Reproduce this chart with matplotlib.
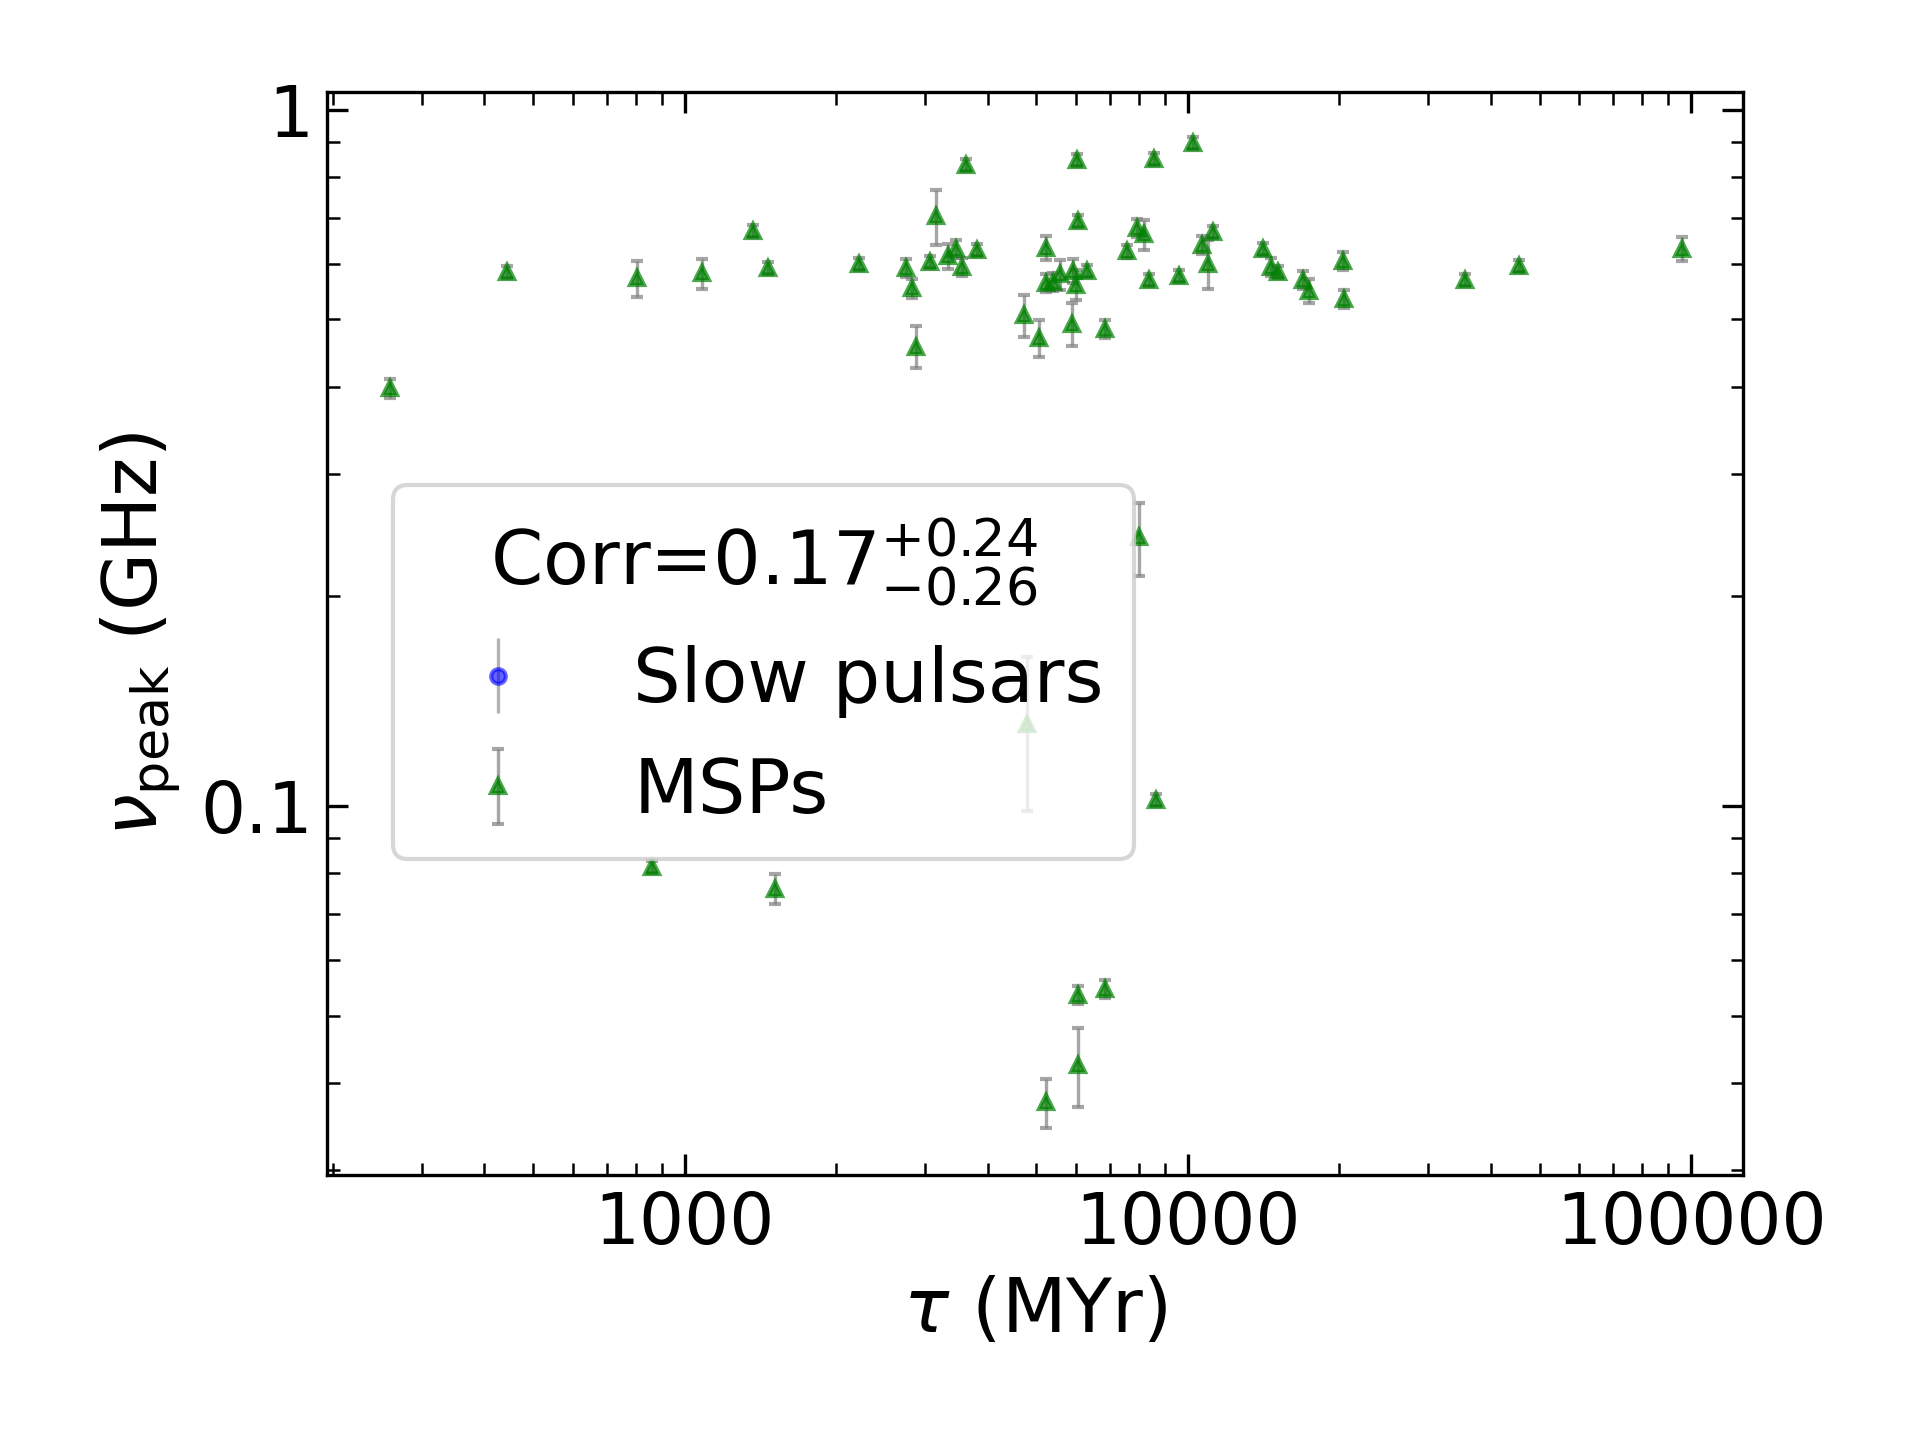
import numpy as np
import matplotlib
matplotlib.use("Agg")
import matplotlib.pyplot as plt

tau = [260, 443, 804, 860, 1081, 1367, 1462, 1512, 2223, 2750, 2827, 2876, 3075, 3162,
       3343, 3459, 3556, 3615, 3802, 4731, 4786, 5058, 5224, 5224, 5224, 5405, 5559, 5875,
       5916, 5984, 6012, 6053, 6053, 6053, 6295, 6843, 6843, 7568, 7907, 7998, 8185, 8356,
       8551, 8650, 9616, 10230, 10690, 10940, 11240, 14130, 14620, 15130, 16910, 17390,
       20320, 20450, 35560, 45480, 95700]
nu = [0.398, 0.585, 0.573, 0.0817, 0.582, 0.670, 0.592, 0.076, 0.601, 0.592, 0.554, 0.457,
      0.604, 0.703, 0.616, 0.631, 0.594, 0.834, 0.629, 0.507, 0.131, 0.470, 0.634, 0.564,
      0.0375, 0.566, 0.580, 0.493, 0.587, 0.561, 0.848, 0.692, 0.0425, 0.0535, 0.587,
      0.485, 0.0546, 0.626, 0.676, 0.243, 0.662, 0.570, 0.851, 0.102, 0.577, 0.897, 0.639,
      0.601, 0.668, 0.631, 0.594, 0.585, 0.570, 0.550, 0.606, 0.535, 0.570, 0.596, 0.631]
relerr = [0.03, 0.02, 0.06, 0.02, 0.05, 0.02, 0.02, 0.05, 0.02, 0.03, 0.03, 0.07, 0.02, 0.09,
          0.04, 0.03, 0.03, 0.02, 0.02, 0.07, 0.25, 0.06, 0.04, 0.03, 0.08, 0.03, 0.05, 0.07,
          0.04, 0.05, 0.02, 0.02, 0.13, 0.03, 0.02, 0.03, 0.03, 0.02, 0.03, 0.12, 0.05, 0.02,
          0.02, 0.02, 0.02, 0.02, 0.03, 0.08, 0.02, 0.02, 0.03, 0.02, 0.03, 0.04, 0.03, 0.03,
          0.02, 0.02, 0.04]
yerr = np.array(nu) * np.array(relerr)

fig = plt.figure(figsize=(6.4, 4.8), dpi=300)
ax = fig.add_axes([0.1705, 0.184, 0.7375, 0.752])

ax.errorbar([np.nan], [np.nan], yerr=[np.nan], fmt='o', color='blue', alpha=0.6,
            ecolor='gray', markersize=3.5, elinewidth=0.8, label='Slow pulsars')
ax.errorbar(tau, nu, yerr=yerr, fmt='^', color='green', alpha=0.7, ecolor='gray',
            markersize=3.2, elinewidth=0.8, capsize=1.5, label='MSPs')

ax.set_xscale('log')
ax.set_yscale('log')
ax.set_xlim(195, 127000)
ax.set_ylim(0.0295, 1.06)
ax.set_xticks([1000, 10000, 100000])
ax.set_xticklabels(['1000', '10000', '100000'])
ax.set_yticks([0.1, 1])
ax.set_yticklabels(['0.1', '1'])
ax.tick_params(which='both', direction='in', top=True, right=True, labelsize=17)
ax.tick_params(which='major', length=5)
ax.tick_params(which='minor', length=3)
ax.set_xlabel(r'$\tau$ (MYr)', fontsize=18)
ax.set_ylabel(r'$\nu_{\rm peak}$ (GHz)', fontsize=18)

leg = ax.legend(title=r'Corr=0.17$^{+0.24}_{-0.26}$', fontsize=18, title_fontsize=18,
                loc='upper left', bbox_to_anchor=(0.02, 0.672), framealpha=0.8)
fig.savefig('out.png', dpi=300)
